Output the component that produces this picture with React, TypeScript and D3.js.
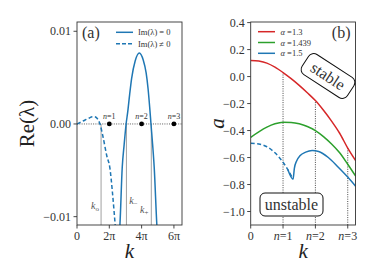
import * as d3 from "d3";

// x positions are k / 2π
const growthSolidK = [1.28, 1.33, 1.4, 1.46, 1.52, 1.57, 1.63, 1.69, 1.8, 1.93, 2.05, 2.14, 2.2, 2.25, 2.29, 2.34, 2.39, 2.47, 2.52];
const growthSolidRe = [-0.0135, -0.0108, -0.0047, -0.0022, 0.0, 0.0013, 0.0032, 0.0049, 0.0068, 0.00766, 0.0069, 0.0055, 0.0038, 0.0018, 0.0, -0.0022, -0.0047, -0.0108, -0.0135];
const growthDashK = [0, 0.12, 0.25, 0.38, 0.47, 0.54, 0.62, 0.71, 0.8, 0.92, 1.02, 1.1, 1.18, 1.22];
const growthDashRe = [0, 0.0002, 0.00043, 0.00065, 0.00077, 0.00079, 0.00062, 0.0, -0.0013, -0.0034, -0.0048, -0.0075, -0.0108, -0.0125];
const modes = [1, 2, 3];
const specialK = [0.745, 1.53, 2.3];
const specialLabels = ["o", "−", "+"];

const bK = [0, 0.25, 0.5, 0.75, 1, 1.25, 1.5, 1.75, 2, 2.25, 2.5, 2.75, 3, 3.25];
const redA = [0.12, 0.115, 0.1, 0.07, 0.03, -0.015, -0.065, -0.12, -0.178, -0.25, -0.33, -0.42, -0.53, -0.625];
const greenA = [-0.45, -0.41, -0.375, -0.35, -0.338, -0.34, -0.35, -0.37, -0.4, -0.445, -0.5, -0.565, -0.65, -0.74];
const blueDashK = [0, 0.25, 0.5, 0.75, 1, 1.15, 1.31];
const blueDashA = [-0.495, -0.5, -0.52, -0.565, -0.635, -0.69, -0.76];
const blueSolidK = [1.15, 1.31, 1.35, 1.42, 1.53, 1.7, 1.9, 2.1, 2.4, 2.7, 3, 3.25];
const blueSolidA = [-0.69, -0.76, -0.68, -0.625, -0.585, -0.56, -0.548, -0.555, -0.6, -0.67, -0.745, -0.815];
const alphas = ["1.3", "1.439", "1.5"];
const colors = ["#d62728", "#2ca02c", "#1f77b4"];

const FONT = "'Liberation Serif', 'DejaVu Serif', serif";

type Pt = [number, number];
const zip = (a: number[], b: number[]): Pt[] => a.map((v, i) => [v, b[i]]);

const App = () => {
  const width = 374;
  const height = 280;
  const top = 22;
  const bottom = 225;

  // panel (a)
  const xa = d3.scaleLinear().domain([0, 3.25]).range([77, 182]);
  const ya = d3.scaleLinear().domain([-0.0109, 0.011]).range([bottom, top]);
  const lineA = d3
    .line<Pt>()
    .x((d) => xa(d[0]))
    .y((d) => ya(d[1]))
    .curve(d3.curveMonotoneX);

  // panel (b)
  const xb = d3.scaleLinear().domain([0, 3.24]).range([250.7, 355.5]);
  const yb = d3.scaleLinear().domain([-1.1, 0.4]).range([bottom, 22.6]);
  const lineB = d3
    .line<Pt>()
    .x((d) => xb(d[0]))
    .y((d) => yb(d[1]))
    .curve(d3.curveMonotoneX);

  const redAt = (k: number) => redA[bK.indexOf(k)];

  return (
    <svg
      width={width}
      height={height}
      viewBox={`0 0 ${width} ${height}`}
      style={{ position: "absolute", left: 0, top: 0 }}
      fontFamily={FONT}
    >
      <defs>
        <clipPath id="clipA">
          <rect x={xa(0)} y={top} width={xa(3.25) - xa(0)} height={bottom - top} />
        </clipPath>
        <clipPath id="clipB">
          <rect x={xb(0)} y={top} width={xb(3.24) - xb(0)} height={bottom - top} />
        </clipPath>
      </defs>

      {/* ---------- panel (a) ---------- */}
      <g>
        {specialK.map((k, i) => (
          <line key={i} x1={xa(k)} x2={xa(k)} y1={bottom} y2={ya(0)} stroke="#a0a0a0" strokeWidth={1} />
        ))}
        <line x1={xa(0)} x2={xa(3.25)} y1={ya(0)} y2={ya(0)} stroke="#333" strokeWidth={0.8} strokeDasharray="1,1.3" />
        <g clipPath="url(#clipA)">
          <path d={lineA(zip(growthDashK, growthDashRe)) ?? undefined} fill="none" stroke={colors[2]} strokeWidth={1.5} strokeDasharray="4,2.5" />
          <path d={lineA(zip(growthSolidK, growthSolidRe)) ?? undefined} fill="none" stroke={colors[2]} strokeWidth={1.5} />
        </g>
        {modes.map((n) => (
          <g key={n}>
            <circle cx={xa(n)} cy={ya(0)} r={2.4} fill="#000" />
            <text x={xa(n)} y={ya(0) - 5} fontSize={8} textAnchor="middle" fill="#333">
              <tspan fontStyle="italic">n</tspan>=
              {n}
            </text>
          </g>
        ))}
        {specialK.map((k, i) => {
          const dx = [-6, 7, -7][i];
          const dy = [209, 204, 213][i];
          return (
            <text key={i} x={xa(k) + dx} y={dy} fontSize={10} textAnchor="middle" fill="#555" fontStyle="italic">
              k<tspan fontSize={7} dy={2} fontStyle="normal">{specialLabels[i]}</tspan>
            </text>
          );
        })}
        <rect x={xa(0)} y={top} width={xa(3.25) - xa(0)} height={bottom - top} fill="none" stroke="#333" strokeWidth={0.9} />
        {[0.01, 0, -0.01].map((v) => (
          <g key={v}>
            <line x1={xa(0) - 3.5} x2={xa(0)} y1={ya(v)} y2={ya(v)} stroke="#333" strokeWidth={0.9} />
            <text x={xa(0) - 6} y={ya(v)} fontSize={12} textAnchor="end" dominantBaseline="central" fill="#333">
              {v === 0 ? "0.00" : v > 0 ? "0.01" : "−0.01"}
            </text>
          </g>
        ))}
        {[0, 1, 2, 3].map((n) => (
          <g key={n}>
            <line x1={xa(n)} x2={xa(n)} y1={bottom} y2={bottom + 3.5} stroke="#333" strokeWidth={0.9} />
            <text x={xa(n)} y={bottom + 15} fontSize={12} textAnchor="middle" fill="#333">
              {n === 0 ? "0" : `${2 * n}π`}
            </text>
          </g>
        ))}
        <text x={xa(0) + 5} y={38} fontSize={16} fill="#333">(a)</text>
        <line x1={116} x2={133} y1={32.3} y2={32.3} stroke={colors[2]} strokeWidth={1.5} />
        <line x1={116} x2={133} y1={43.7} y2={43.7} stroke={colors[2]} strokeWidth={1.5} strokeDasharray="4,2" />
        <text x={138} y={32.3} fontSize={8.5} dominantBaseline="central" fill="#333">Im(λ) = 0</text>
        <text x={138} y={43.7} fontSize={8.5} dominantBaseline="central" fill="#333">Im(λ) ≠ 0</text>
        <text transform={`translate(34, ${(top + bottom) / 2}) rotate(-90)`} fontSize={21} textAnchor="middle" fill="#222">
          Re(λ)
        </text>
        <text x={(xa(0) + xa(3.25)) / 2} y={258} fontSize={21} textAnchor="middle" fontStyle="italic" fill="#222">k</text>
      </g>

      {/* ---------- panel (b) ---------- */}
      <g>
        {modes.map((n) => (
          <line key={n} x1={xb(n)} x2={xb(n)} y1={bottom} y2={yb(redAt(n))} stroke="#333" strokeWidth={0.9} strokeDasharray="1,1.3" />
        ))}
        <g clipPath="url(#clipB)">
          <path d={lineB(zip(bK, redA)) ?? undefined} fill="none" stroke={colors[0]} strokeWidth={1.5} />
          <path d={lineB(zip(bK, greenA)) ?? undefined} fill="none" stroke={colors[1]} strokeWidth={1.5} />
          <path d={lineB(zip(blueDashK, blueDashA)) ?? undefined} fill="none" stroke={colors[2]} strokeWidth={1.5} strokeDasharray="4,2.5" />
          <path d={lineB(zip(blueSolidK, blueSolidA)) ?? undefined} fill="none" stroke={colors[2]} strokeWidth={1.5} />
        </g>
        <rect x={xb(0)} y={top} width={xb(3.24) - xb(0)} height={bottom - top} fill="none" stroke="#333" strokeWidth={0.9} />
        {d3.range(-5, 3).map((i) => {
          const v = i * 0.2;
          return (
            <g key={i}>
              <line x1={xb(0) - 3.5} x2={xb(0)} y1={yb(v)} y2={yb(v)} stroke="#333" strokeWidth={0.9} />
              <text x={xb(0) - 6} y={yb(v)} fontSize={12} textAnchor="end" dominantBaseline="central" fill="#333">
                {i === 0 ? "0.0" : d3.format(".1f")(v).replace("-", "−")}
              </text>
            </g>
          );
        })}
        {[0, 1, 2, 3].map((n) => (
          <g key={n}>
            <line x1={xb(n)} x2={xb(n)} y1={bottom} y2={bottom + 3.5} stroke="#333" strokeWidth={0.9} />
            <text x={xb(n)} y={bottom + 15} fontSize={12} textAnchor="middle" fill="#333">
              {n === 0 ? "0" : (
                <>
                  <tspan fontStyle="italic">n</tspan>={n}
                </>
              )}
            </text>
          </g>
        ))}
        {alphas.map((a, i) => (
          <g key={a}>
            <line x1={258} x2={275} y1={31.7 + i * 10.8} y2={31.7 + i * 10.8} stroke={colors[i]} strokeWidth={1.5} />
            <text x={280.5} y={31.7 + i * 10.8} fontSize={8.5} dominantBaseline="central" fill="#333">
              <tspan fontStyle="italic">α</tspan> =
              {a}
            </text>
          </g>
        ))}
        <text x={xb(3.24) - 5} y={38} fontSize={16} textAnchor="end" fill="#333">(b)</text>
        <g transform="translate(328, 76) rotate(33)">
          <rect x={-27} y={-12} width={54} height={24} rx={6} fill="#fff" stroke="#111" strokeWidth={1} />
          <text x={0} y={0} fontSize={16} textAnchor="middle" dominantBaseline="central" fill="#333">stable</text>
        </g>
        <g transform="translate(291.5, 204.5)">
          <rect x={-31.5} y={-11.5} width={63} height={23} rx={5} fill="#fff" stroke="#111" strokeWidth={1} />
          <text x={0} y={0} fontSize={16} textAnchor="middle" dominantBaseline="central" fill="#333">unstable</text>
        </g>
        <text transform={`translate(224, ${(top + bottom) / 2}) rotate(-90)`} fontSize={21} textAnchor="middle" fontStyle="italic" fill="#222">
          a
        </text>
        <text x={(xb(0) + xb(3.24)) / 2} y={258} fontSize={21} textAnchor="middle" fontStyle="italic" fill="#222">k</text>
      </g>
    </svg>
  );
};

export default App;
